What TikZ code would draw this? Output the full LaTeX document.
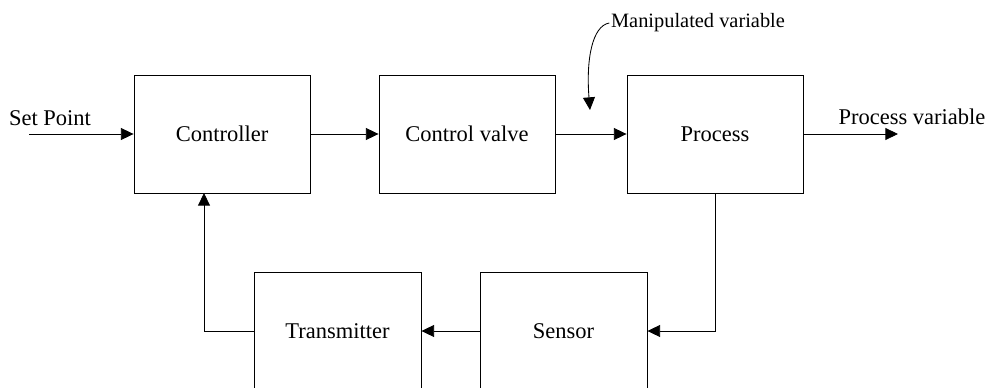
\documentclass[tikz,border=0pt]{standalone}
\usepackage{fontspec}
\setmainfont{Liberation Serif}
\usetikzlibrary{arrows.meta}
\begin{document}
\begin{tikzpicture}[x=0.025cm,y=-0.025cm,
      font=\fontsize{16}{19}\selectfont,
      line width=0.6pt,
      block/.style={draw,minimum width=4.4cm,minimum height=2.95cm,inner sep=0pt},
      lowblock/.style={block,minimum width=4.175cm},
      lbl/.style={inner sep=1pt},
      arr/.style={-{Triangle[length=9pt,width=8.5pt]}}
      ]
      \clip (0,0) rectangle (989,388);
      % forward path
      \node[block] (ctrl) at (222,134) {Controller};
      \node[block] (valve) at (467,134) {Control valve};
      \node[block] (proc) at (715,134) {Process};
      % feedback path
      \node[lowblock] (sens) at (563.5,331) {Sensor};
      \node[lowblock] (trans) at (337.5,331) {Transmitter};
      % labels
      \node[lbl] (sp) at (50,118) {Set Point};
      \node[lbl] (pv) at (912,117) {Process variable};
      \node[lbl,font=\fontsize{14.5}{17}\selectfont] (mv) at (698,23) {Manipulated variable};
      \coordinate (in) at (29,134);
      \coordinate (out) at (898,134);
      \coordinate (fbup) at (204,193);
      \coordinate (mvend) at (590,110);
      \draw[arr] (in) -- (ctrl.west);
      \draw[arr] (ctrl.east) -- (valve.west);
      \draw[arr] (valve.east) -- (proc.west);
      \draw[arr] (proc.east) -- (out);
      \draw[arr] (mv.west) .. controls (592,26) and (586,60) .. (mvend);
      \draw[arr] (proc.south) |- (sens.east);
      \draw[arr] (sens.west) -- (trans.east);
      \draw[arr] (trans.west) -| (fbup);
\end{tikzpicture}
\end{document}
